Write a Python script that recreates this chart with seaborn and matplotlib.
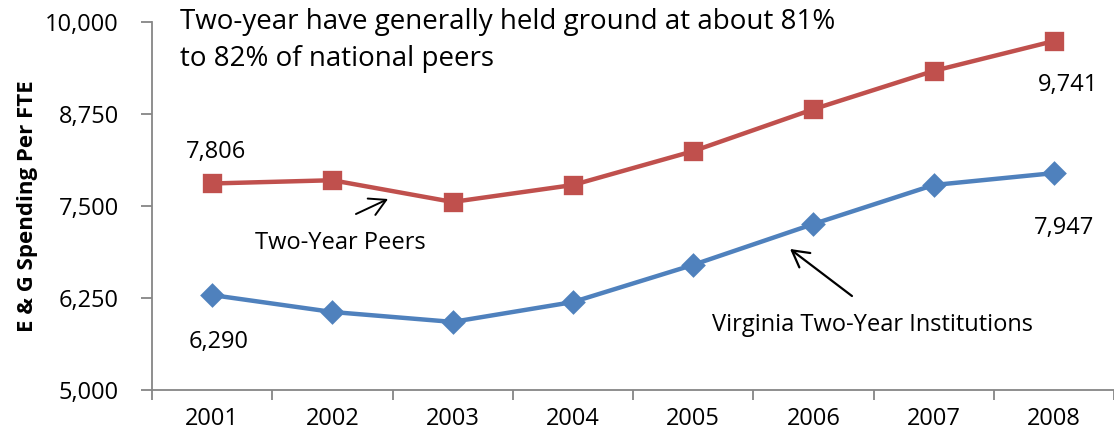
import matplotlib
matplotlib.use("Agg")
import matplotlib.pyplot as plt
import seaborn as sns
import pandas as pd
from matplotlib.ticker import FuncFormatter, FixedLocator

years = ["2001", "2002", "2003", "2004", "2005", "2006", "2007", "2008"]
peers = [7806, 7850, 7555, 7785, 8245, 8815, 9335, 9741]
virginia = [6290, 6060, 5925, 6195, 6700, 7255, 7785, 7947]
series_names = ["Two-Year Peers", "Virginia Two-Year Institutions"]
yticks = [5000, 6250, 7500, 8750, 10000]

sns.set_theme(style="white")
plt.rcParams['font.family'] = ['Open Sans', 'DejaVu Sans']
plt.rcParams['text.color'] = 'black'
plt.rcParams['axes.labelcolor'] = 'black'
plt.rcParams['xtick.labelcolor'] = 'black'
plt.rcParams['ytick.labelcolor'] = 'black'

DPI = 100
fig = plt.figure(figsize=(11.14, 4.38), dpi=DPI)
ax = fig.add_axes([152/1114, 48/438, (1114-152)/1114, (390-22)/438])

df_p = pd.DataFrame({"year": years, "value": peers})
df_v = pd.DataFrame({"year": years, "value": virginia})

sns.pointplot(data=df_p, x="year", y="value", order=years, color="#C0504D",
              marker="s", markersize=12, linewidth=3.2, ax=ax, errorbar=None)
sns.pointplot(data=df_v, x="year", y="value", order=years, color="#4F81BD",
              marker="D", markersize=10, linewidth=3.2, ax=ax, errorbar=None)

ax.set_xlim(-0.5, len(years) - 0.5)
ax.set_ylim(yticks[0], yticks[-1])
ax.set_yticks(yticks)
ax.yaxis.set_major_formatter(FuncFormatter(lambda v, p: f"{int(v):,}"))
ax.set_xlabel("")
ax.set_ylabel("E & G Spending Per FTE", fontsize=16, fontweight="bold", labelpad=5,
              color="black")

for s in ["top", "right"]:
    ax.spines[s].set_visible(False)
for s in ["left", "bottom"]:
    ax.spines[s].set_color("#868686")
    ax.spines[s].set_linewidth(1.3)

FS = 17
ax.tick_params(axis="y", which="major", length=8, width=1.3, color="#868686",
               labelsize=FS, pad=16, left=True, direction="out", labelcolor="black")
ax.tick_params(axis="x", which="major", length=0, labelsize=FS, pad=12, labelcolor="black")
ax.xaxis.set_minor_locator(FixedLocator([i - 0.5 for i in range(len(years) + 1)]))
ax.tick_params(axis="x", which="minor", length=7, width=1.3, color="#868686",
               bottom=True, direction="out")

n = len(years) - 1
labels = [
    (0, peers[0], (4, 31)),
    (n, peers[n], (14, -44)),
    (n, virginia[n], (10, -55)),
    (0, virginia[0], (7, -47)),
]
for x, y, off in labels:
    ax.annotate(f"{y:,}", xy=(x, y), xytext=off, textcoords="offset pixels",
                ha="center", va="center", fontsize=FS, color="black")

ax.annotate("", xy=(1.463, 7595), xytext=(1.196, 7391),
            arrowprops=dict(arrowstyle="->,head_length=0.45,head_width=0.25", color="black",
                            lw=1.4, mutation_scale=26, shrinkA=0, shrinkB=0))
ax.text(1.063, 6997, series_names[0], ha="center", va="center", fontsize=FS, color="black")

ax.annotate("", xy=(4.806, 6916), xytext=(5.321, 6277),
            arrowprops=dict(arrowstyle="->,head_length=0.45,head_width=0.25", color="black",
                            lw=1.6, mutation_scale=26, shrinkA=0, shrinkB=0))
ax.text(5.488, 5883, series_names[1], ha="center", va="center", fontsize=FS, color="black")

fig.text(180/1114, 1 - 8/438, "Two-year have generally held ground at about 81%\nto 82% of national peers",
         ha="left", va="top", fontsize=20, linespacing=1.45, color="black")

fig.savefig("out.png", dpi=DPI)
